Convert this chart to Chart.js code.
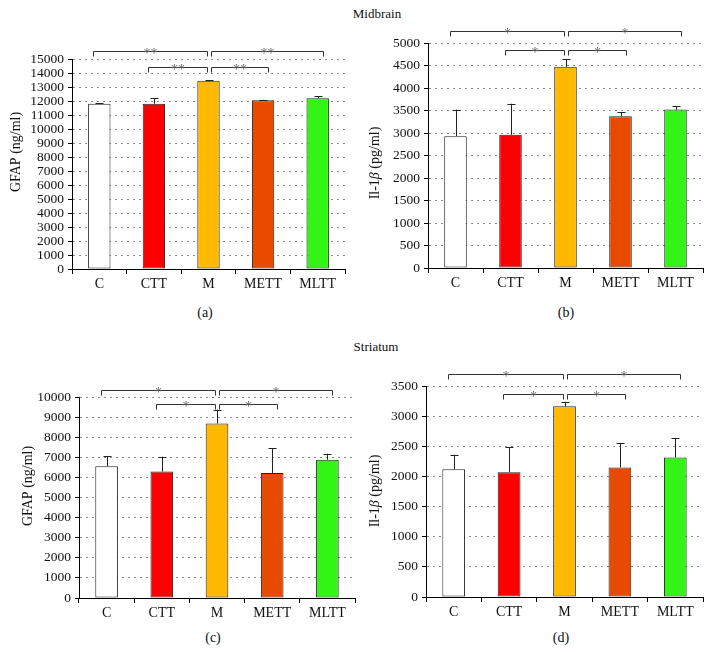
<!DOCTYPE html>
<html>
<head>
<meta charset="utf-8">
<script src="https://cdn.jsdelivr.net/npm/chart.js@4.4.1/dist/chart.umd.min.js"></script>
<style>
  body { margin: 0; background: #fff; width: 716px; height: 654px; position: relative; overflow: hidden; font-family: "Liberation Serif", serif; }
  canvas { position: absolute; }
  .lbl { position: absolute; transform: translate(-50%, -50%); color: #111; white-space: nowrap; }
</style>
</head>
<body>
<div class="lbl" style="left:377px;top:14px;font-size:13px">Midbrain</div>
<div class="lbl" style="left:376px;top:347px;font-size:13px">Striatum</div>
<div class="lbl" style="left:205px;top:313px;font-size:14px">(a)</div>
<div class="lbl" style="left:566px;top:313px;font-size:14px">(b)</div>
<div class="lbl" style="left:213px;top:638px;font-size:14px">(c)</div>
<div class="lbl" style="left:561px;top:638px;font-size:14px">(d)</div>
<canvas id="chartA"></canvas>
<canvas id="chartB"></canvas>
<canvas id="chartC"></canvas>
<canvas id="chartD"></canvas>
<script>
// nhom
const groups = ['C', 'CTT', 'M', 'METT', 'MLTT'];
const barColors = ['#ffffff', '#ff0000', '#ffb900', '#e84b00', '#33f515'];

// Midbrain GFAP (ng/ml)
const midGfap = [11800, 11800, 13450, 12050, 12200];
const midGfapSd = [40, 390, 30, 30, 130];
// Midbrain Il-1b (pg/ml)
const midIl = [2930, 2960, 4470, 3370, 3520];
const midIlSd = [590, 690, 175, 95, 75];
// Striatum GFAP (ng/ml)
const striGfap = [6550, 6290, 8680, 6220, 6880];
const striGfapSd = [520, 740, 690, 1230, 300];
// Striatum Il-1b (pg/ml)
const striIl = [2120, 2070, 3165, 2150, 2315];
const striIlSd = [240, 410, 72, 405, 325];

// y axis max / step
const axisA = [15000, 1000];
const axisB = [5000, 500];
const axisC = [10000, 1000];
const axisD = [3500, 500];

// so sanh: [tu, den, muc (gia tri), ky hieu]
const sigA = [[0, 2, 15570, '**'], [2, 4, 15570, '**'], [1, 2, 14400, '**'], [2, 3, 14400, '**']];
const sigB = [[0, 2, 5274, '*'], [2, 4, 5274, '*'], [1, 2, 4837, '*'], [2, 3, 4837, '*']];
const sigC = [[0, 2, 10365, '*'], [2, 4, 10365, '*'], [1, 2, 9670, '*'], [2, 3, 9670, '*']];
const sigD = [[0, 2, 3705, '*'], [2, 4, 3705, '*'], [1, 2, 3362, '*'], [2, 3, 3362, '*']];

const serif = '"Liberation Serif", serif';

function makePanel(id, box, area, values, sd, axis, sig, yTitle, titlePos) {
    const canvas = document.getElementById(id);
    canvas.width = box.w;
    canvas.height = box.h;
    canvas.style.left = box.x + 'px';
    canvas.style.top = box.y + 'px';
    const xAxisH = 24;

    // error bars (chi ve phia tren)
    const errorBars = {
        id: 'errorBars',
        afterDatasetsDraw(chart) {
            const c = chart.ctx;
            const y = chart.scales.y;
            const meta = chart.getDatasetMeta(0);
            c.save();
            c.strokeStyle = '#222';
            c.lineWidth = 1;
            meta.data.forEach((bar, i) => {
                const top = y.getPixelForValue(values[i] + sd[i]);
                const x = Math.round(bar.x) + 0.5;
                c.beginPath();
                c.moveTo(x, bar.y);
                c.lineTo(x, top);
                c.moveTo(x - 4, Math.round(top) + 0.5);
                c.lineTo(x + 4, Math.round(top) + 0.5);
                c.stroke();
            });
            c.restore();
        }
    };

    // dau so sanh + tieu de truc y
    const extras = {
        id: 'extras',
        afterDraw(chart) {
            const c = chart.ctx;
            const xs = chart.scales.x;
            const ys = chart.scales.y;
            c.save();
            sig.forEach(s => {
                const from = s[0], to = s[1];
                let x1 = xs.getPixelForValue(from);
                let x2 = xs.getPixelForValue(to);
                if (to === 2) { x1 -= 6; x2 -= 2; } else { x1 += 2; x2 += 5; }
                x1 = Math.round(x1) + 0.5;
                x2 = Math.round(x2) + 0.5;
                const y = Math.round(ys.getPixelForValue(s[2])) + 0.5;
                c.strokeStyle = '#333';
                c.lineWidth = 1;
                c.beginPath();
                c.moveTo(x1, y + 5);
                c.lineTo(x1, y);
                c.lineTo(x2, y);
                c.lineTo(x2, y + 5);
                c.stroke();
                c.fillStyle = '#666';
                c.font = '14px ' + serif;
                c.textAlign = 'center';
                c.textBaseline = 'alphabetic';
                c.fillText(s[3], (x1 + x2) / 2, y + 6);
            });

            // tieu de truc y (co chu nghieng)
            c.translate(titlePos[0] - box.x, titlePos[1] - box.y);
            c.rotate(-Math.PI / 2);
            c.fillStyle = '#111';
            c.textBaseline = 'middle';
            c.textAlign = 'left';
            let total = 0;
            yTitle.forEach(p => {
                c.font = (p[1] ? 'italic ' : '') + '14px ' + serif;
                total += c.measureText(p[0]).width;
            });
            let px = -total / 2;
            yTitle.forEach(p => {
                c.font = (p[1] ? 'italic ' : '') + '14px ' + serif;
                c.fillText(p[0], px, 0);
                px += c.measureText(p[0]).width;
            });
            c.restore();
        }
    };

    return new Chart(canvas, {
        type: 'bar',
        data: {
            labels: groups,
            datasets: [{
                data: values,
                backgroundColor: barColors,
                borderColor: '#222',
                borderWidth: 1,
                borderSkipped: false,
                barPercentage: 0.41,
                categoryPercentage: 1
            }]
        },
        options: {
            responsive: false,
            animation: false,
            devicePixelRatio: 1,
            layout: {
                padding: {
                    left: 0,
                    top: area.t - box.y,
                    right: box.x + box.w - area.r,
                    bottom: box.y + box.h - area.b - xAxisH
                }
            },
            plugins: {
                legend: { display: false },
                tooltip: { enabled: false }
            },
            scales: {
                x: {
                    afterFit(scale) { scale.height = xAxisH; },
                    grid: {
                        offset: true,
                        drawOnChartArea: false,
                        drawTicks: true,
                        tickLength: 5,
                        tickColor: '#000'
                    },
                    border: { color: '#000', width: 1 },
                    ticks: { color: '#111', font: { family: serif, size: 14 }, padding: 2 }
                },
                y: {
                    min: 0,
                    max: axis[0],
                    afterFit(scale) { scale.width = area.l - box.x; },
                    ticks: {
                        stepSize: axis[1],
                        autoSkip: false,
                        maxTicksLimit: 100,
                        color: '#111',
                        font: { family: serif, size: 13.5 },
                        padding: 4,
                        callback: v => String(v)
                    },
                    grid: {
                        color: ctx => (ctx.tick && ctx.tick.value === 0) ? 'rgba(0,0,0,0)' : '#8a8a8a',
                        lineWidth: 1,
                        drawTicks: true,
                        tickLength: 4,
                        tickColor: '#000'
                    },
                    border: { color: '#000', width: 1, dash: [2, 4] }
                }
            }
        },
        plugins: [errorBars, extras]
    });
}

makePanel('chartA', { x: 0, y: 0, w: 358, h: 300 }, { l: 72, t: 59, r: 345, b: 269 },
    midGfap, midGfapSd, axisA, sigA, [['GFAP (ng/ml)', false]], [16, 152]);
makePanel('chartB', { x: 358, y: 0, w: 358, h: 300 }, { l: 428, t: 43, r: 703, b: 268 },
    midIl, midIlSd, axisB, sigB, [['Il-1', false], ['β', true], [' (pg/ml)', false]], [375, 163]);
makePanel('chartC', { x: 0, y: 320, w: 358, h: 310 }, { l: 79, t: 397, r: 355, b: 598 },
    striGfap, striGfapSd, axisC, sigC, [['GFAP (ng/ml)', false]], [28, 486]);
makePanel('chartD', { x: 358, y: 320, w: 358, h: 310 }, { l: 426, t: 386, r: 703, b: 597 },
    striIl, striIlSd, axisD, sigD, [['Il-1', false], ['β', true], [' (pg/ml)', false]], [375, 491]);
</script>
</body>
</html>
